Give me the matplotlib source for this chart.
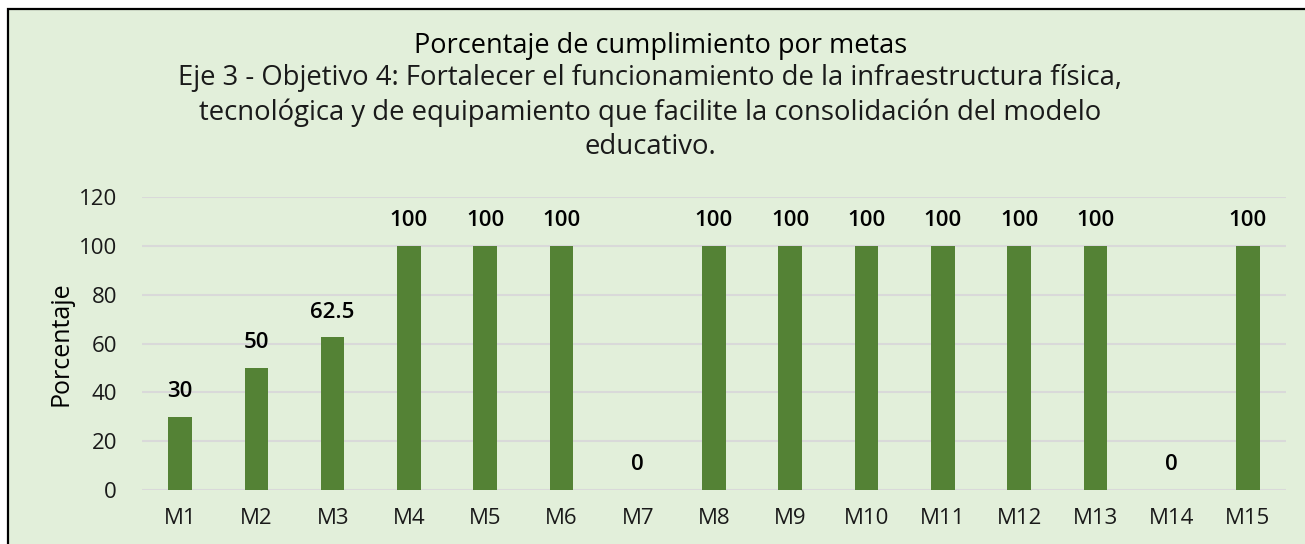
import matplotlib.pyplot as plt
from matplotlib.patches import Rectangle

plt.rcParams['font.family'] = ['Open Sans', 'DejaVu Sans']

metas = ["M1", "M2", "M3", "M4", "M5", "M6", "M7", "M8", "M9", "M10",
         "M11", "M12", "M13", "M14", "M15"]
porcentaje = [30, 50, 62.5, 100, 100, 100, 0, 100, 100, 100, 100, 100, 100, 0, 100]
etiquetas = ["30", "50", "62.5", "100", "100", "100", "0", "100", "100", "100",
             "100", "100", "100", "0", "100"]
titulo = "Porcentaje de cumplimiento por metas"
subtitulo = ["Eje 3 - Objetivo 4: Fortalecer el funcionamiento de la infraestructura física,",
             "tecnológica y de equipamiento que facilite la consolidación del modelo",
             "educativo."]

W, H = 1305, 544
fig = plt.figure(figsize=(W / 100, H / 100), dpi=100, facecolor="white")

# chart frame (clipped at right/bottom like the screenshot)
fig.patches.append(Rectangle((8 / W, -0.1), 1.2, 1 - 9 / H + 0.1,
                             transform=fig.transFigure, facecolor="#E2EFDA",
                             edgecolor="black", linewidth=1.6, zorder=-5))

ax = fig.add_axes([142 / W, 1 - 490 / H, (1286 - 142) / W, (490 - 197) / H])
ax.patch.set_alpha(0)

x = range(len(metas))
ax.bar(x, porcentaje, width=0.31, color="#548235", zorder=3)
for i, (v, t) in enumerate(zip(porcentaje, etiquetas)):
    ax.annotate(t, (i, v), xytext=(0, 18), textcoords="offset points",
                ha="center", va="center", fontsize=16, fontweight="semibold",
                color="black")

ax.set_xlim(-0.5, len(metas) - 0.5)
ax.set_ylim(0, 120)
ax.set_yticks(range(0, 121, 20))
ax.set_xticks(list(x))
ax.set_xticklabels(metas)
ax.tick_params(axis="both", length=0, labelsize=16, colors="#1a1a1a")
ax.tick_params(axis="x", pad=13)
ax.tick_params(axis="y", pad=18)
ax.grid(axis="y", color="#D9D9D9", linewidth=1.5, zorder=0)
for s in ax.spines.values():
    s.set_visible(False)
ax.set_ylabel("Porcentaje", fontsize=18, color="black", labelpad=4)

fig.text(661 / W, 1 - 46 / H, titulo,
         ha="center", va="center", fontsize=19.5, color="black")
for k, linea in enumerate(subtitulo):
    fig.text(650 / W, 1 - (78 + 34.5 * k) / H, linea,
             ha="center", va="center", fontsize=19.8, color="#1a1a1a")

fig.savefig("out.png", dpi=100, facecolor="white")
